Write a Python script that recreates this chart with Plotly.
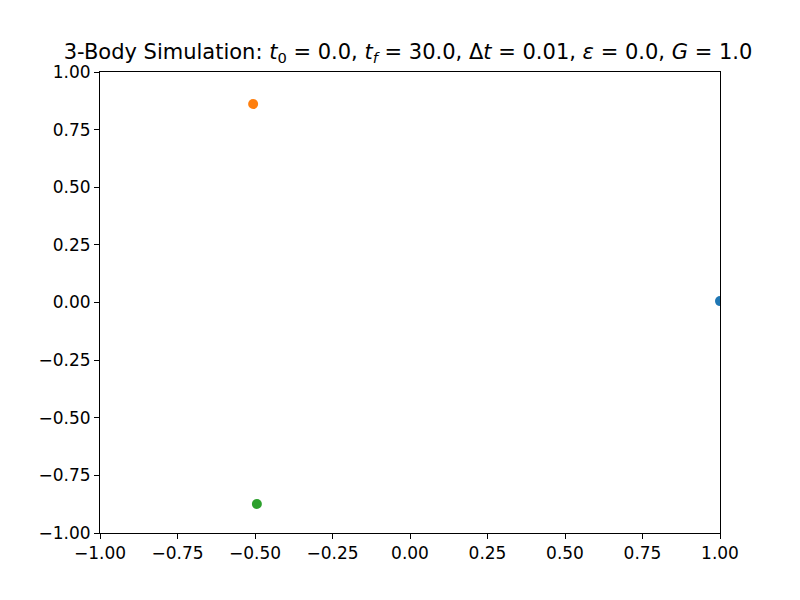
import plotly.graph_objects as go

# body positions at t0
body_names = ["Body 1", "Body 2", "Body 3"]
x_pos = [1.0, -0.506, -0.494]
y_pos = [0.006, 0.861, -0.874]
body_colors = ["#1f77b4", "#ff7f0e", "#2ca02c"]

tick_vals = [-1.0, -0.75, -0.5, -0.25, 0.0, 0.25, 0.5, 0.75, 1.0]
tick_text = ["\u22121.00", "\u22120.75", "\u22120.50", "\u22120.25", "0.00", "0.25", "0.50", "0.75", "1.00"]

fig = go.Figure()
for name, x, y, c in zip(body_names, x_pos, y_pos, body_colors):
    fig.add_trace(go.Scatter(x=[x], y=[y], mode="markers", name=name,
                             marker=dict(color=c, size=10), cliponaxis=True))

axis_style = dict(range=[-1, 1], tickvals=tick_vals, ticktext=tick_text,
                  showgrid=False, zeroline=False, showline=True, linecolor="black",
                  linewidth=1, mirror=True, ticks="outside", ticklen=5,
                  tickcolor="black", tickfont=dict(size=17, color="black"))

fig.update_layout(
    width=800, height=600,
    title=dict(text="3-Body Simulation: <i>t</i><sub>0</sub> = 0.0, <i>t<sub>f</sub></i> = 30.0, "
                    "\u0394<i>t</i> = 0.01, <i>\u03b5</i> = 0.0, <i>G</i> = 1.0",
               x=0.5, xanchor="center", y=0.915, yanchor="bottom",
               font=dict(size=21, color="black")),
    font=dict(family="DejaVu Sans"),
    xaxis=axis_style, yaxis=axis_style,
    showlegend=False,
    plot_bgcolor="white", paper_bgcolor="white",
    margin=dict(l=92, r=88, t=64, b=75),
)

fig.write_html("out.html")
